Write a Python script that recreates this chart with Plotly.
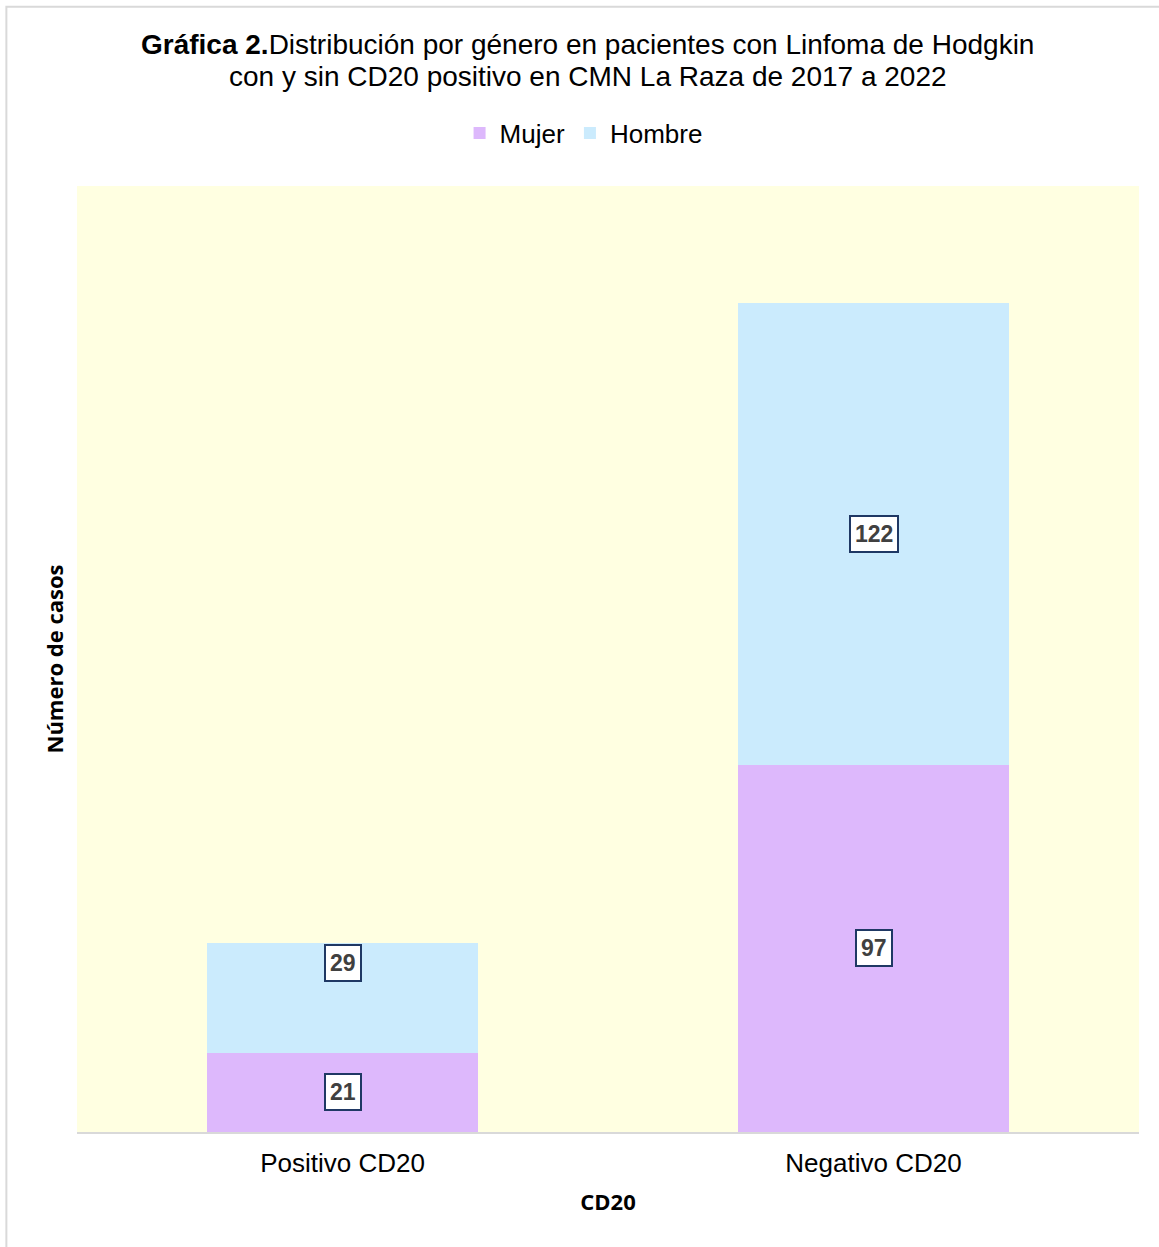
import plotly.graph_objects as go

categories = ["Positivo CD20", "Negativo CD20"]
mujer = [21, 97]
hombre = [29, 122]
label_frac_mujer = [0.5, 0.5]
label_frac_hombre = [0.82, 0.5]

fig = go.Figure()
fig.add_trace(go.Bar(x=categories, y=mujer, name="Mujer", marker_color="#DDB8FC", marker_line_width=0))
fig.add_trace(go.Bar(x=categories, y=hombre, name="Hombre", marker_color="#CBEBFD", marker_line_width=0))

lab_font = dict(family="Liberation Sans, Arial", size=23, color="#404040")
for i, c in enumerate(categories):
    fig.add_annotation(x=c, y=mujer[i] * label_frac_mujer[i], text=f"<b>{mujer[i]}</b>",
                       showarrow=False, font=lab_font, bgcolor="white",
                       bordercolor="#1F3864", borderwidth=2, borderpad=4)
    fig.add_annotation(x=c, y=mujer[i] + hombre[i] * label_frac_hombre[i], text=f"<b>{hombre[i]}</b>",
                       showarrow=False, font=lab_font, bgcolor="white",
                       bordercolor="#1F3864", borderwidth=2, borderpad=4)

title_font = dict(family="Liberation Sans, Arial", size=28, color="#000000")
fig.add_annotation(
    text="<b>Gráfica 2.</b>Distribución por género en pacientes con Linfoma de Hodgkin",
    xref="paper", yref="paper", x=0.4807, y=1 + (186 - 44) / 946, xanchor="center", yanchor="middle",
    showarrow=False, font=title_font)
fig.add_annotation(
    text="con y sin CD20 positivo en CMN La Raza de 2017 a 2022",
    xref="paper", yref="paper", x=0.4807, y=1 + (186 - 76) / 946, xanchor="center", yanchor="middle",
    showarrow=False, font=title_font)

fig.add_shape(type="rect", xref="paper", yref="paper", x0=-0.0665, x1=1.1, y0=-0.2, y1=1.1895,
              line=dict(color="#D9D9D9", width=2), fillcolor="rgba(0,0,0,0)", layer="below")

fig.update_layout(
    width=1159, height=1247,
    margin=dict(l=77, r=20, t=186, b=115),
    barmode="stack", bargap=0.488,
    plot_bgcolor="#FFFFE1", paper_bgcolor="white",
    showlegend=True,
    legend=dict(orientation="h", x=0.477, xanchor="center", y=1.056, yanchor="middle",
                font=dict(family="Liberation Sans, Arial", size=26, color="#000000"),
                itemsizing="constant", traceorder="normal", itemwidth=30),
    xaxis=dict(showline=True, linecolor="#D9D9D9", linewidth=2, ticks="", ticklabelstandoff=7,
               tickfont=dict(family="Liberation Sans, Arial", size=26, color="#000000"),
               title=dict(text="<b>CD20</b>", font=dict(family="Open Sans, Noto Sans", size=22, color="#000000"), standoff=17)),
    yaxis=dict(range=[0, 250], showticklabels=False, showgrid=False, zeroline=False, showline=False,
               title=dict(text="<b>Número de casos</b>", font=dict(family="Open Sans, Noto Sans", size=22, color="#000000"), standoff=6)),
)

fig.write_html("out.html")
